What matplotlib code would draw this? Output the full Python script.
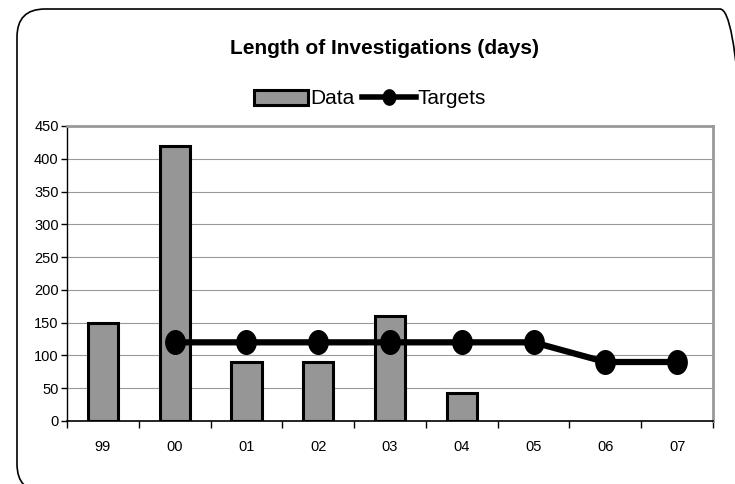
import matplotlib
matplotlib.use("Agg")
import matplotlib.pyplot as plt
from matplotlib.patches import FancyBboxPatch, Patch
from matplotlib.lines import Line2D
from matplotlib.path import Path
import numpy as np

categories = ["99", "00", "01", "02", "03", "04", "05", "06", "07"]
data_values = [150, 420, 90, 90, 160, 43, None, None, None]
target_values = [None, 120, 120, 120, 120, 120, 120, 90, 90]
y_ticks = [0, 50, 100, 150, 200, 250, 300, 350, 400, 450]

plt.rcParams['font.family'] = ['Liberation Sans', 'DejaVu Sans']

fig = plt.figure(figsize=(7.35, 4.84), dpi=100)
W, H = 735, 484

# outer rounded frame (in inches so the corners are round)
frame = FancyBboxPatch((0.17, -0.08), 7.31, 4.83,
                       boxstyle="round,pad=0,rounding_size=0.28",
                       transform=fig.dpi_scale_trans, fill=False, edgecolor="black",
                       linewidth=1.2)
fig.patches.append(frame)

ax = fig.add_axes([67 / W, (H - 421) / H, (713 - 67) / W, (421 - 126) / H])
x = np.arange(len(categories))

bx = [i for i, v in enumerate(data_values) if v is not None]
bv = [v for v in data_values if v is not None]
ax.bar(bx, bv, width=0.42, color="#969696", edgecolor="black", linewidth=2.2, zorder=3)

# slightly tall elliptical marker
t = np.linspace(0, 2 * np.pi, 60)
ell = Path(np.column_stack([0.82 * np.cos(t), np.sin(t)]), closed=True)

tx = [i for i, v in enumerate(target_values) if v is not None]
tv = [v for v in target_values if v is not None]
ax.plot(tx, tv, color="black", linewidth=4.5, marker=ell, markersize=17, zorder=4)

ax.set_xlim(-0.5, len(categories) - 0.5)
ax.set_ylim(0, 450)
ax.set_yticks(y_ticks)
ax.set_yticklabels([str(v) for v in y_ticks], fontsize=10.5)
ax.set_xticks(x)
ax.set_xticklabels(categories, fontsize=10.5)
ax.set_xticks(np.arange(-0.5, len(categories), 1), minor=True)
ax.tick_params(axis="x", which="major", length=0, pad=14)
ax.tick_params(axis="x", which="minor", length=5, width=1, direction="out", color="black")
ax.tick_params(axis="y", length=4, width=1, direction="out", pad=2)
ax.grid(axis="y", color="#999999", linewidth=0.8, zorder=0)
ax.set_axisbelow(True)
for s in ["top", "right"]:
    ax.spines[s].set_color("#999999")
    ax.spines[s].set_linewidth(2)
ax.spines["left"].set_color("black")
ax.spines["bottom"].set_color("black")
ax.spines["left"].set_linewidth(1)
ax.spines["bottom"].set_linewidth(1.2)

fig.text(385 / W, 1 - 48 / H, "Length of Investigations (days)", ha="center", va="center",
         fontsize=15, fontweight="bold")

handles = [Patch(facecolor="#969696", edgecolor="black", linewidth=2.2),
           Line2D([0], [0], color="black", linewidth=4, marker=ell, markersize=11)]
fig.legend(handles, ["Data", "Targets"], loc="center", bbox_to_anchor=(370 / W, 1 - 99 / H),
           ncol=2, frameon=False, fontsize=15, handlelength=2.6, handleheight=0.7,
           columnspacing=0.35, handletextpad=0.1, borderpad=0)

fig.savefig("out.png", dpi=100)
